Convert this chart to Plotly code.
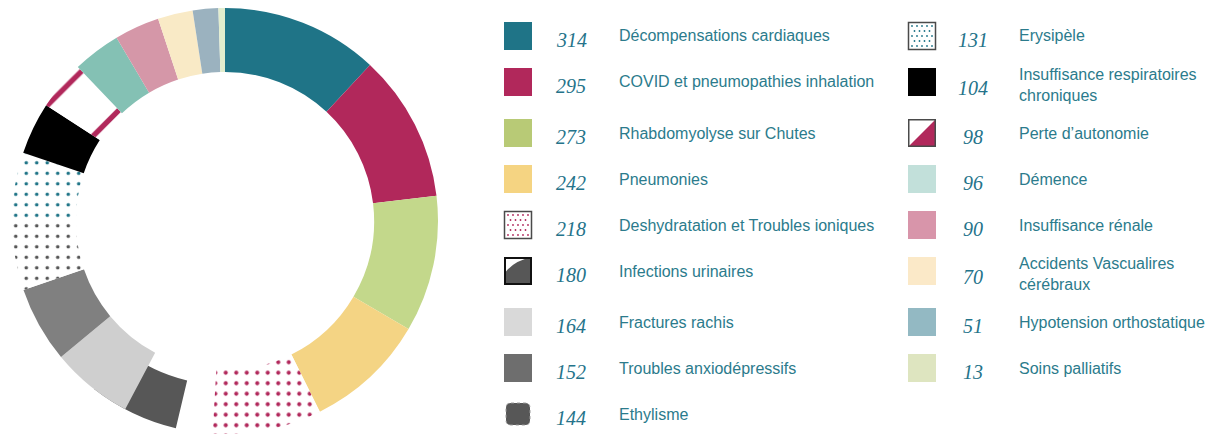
import plotly.graph_objects as go

W, H = 1219, 435

# ---------------- data ----------------
categories = [
    "Décompensations cardiaques", "COVID et pneumopathies inhalation",
    "Rhabdomyolyse sur Chutes", "Pneumonies",
    "Deshydratation et Troubles ioniques", "Infections urinaires",
    "Fractures rachis", "Troubles anxiodépressifs", "Ethylisme",
    "Erysipèle", "Insuffisance respiratoires chroniques", "Perte d’autonomie",
    "Démence", "Insuffisance rénale", "Accidents Vascualires cérébraux",
    "Hypotension orthostatique", "Soins palliatifs",
]
values = [314, 295, 273, 242, 218, 180, 164, 152, 144, 131, 104, 98, 96, 90, 70, 51, 13]
legend_labels = [
    "Décompensations cardiaques", "COVID et pneumopathies inhalation",
    "Rhabdomyolyse sur Chutes", "Pneumonies",
    "Deshydratation et Troubles ioniques", "Infections urinaires",
    "Fractures rachis", "Troubles anxiodépressifs", "Ethylisme",
    "Erysipèle", "Insuffisance respiratoires<br>chroniques", "Perte d’autonomie",
    "Démence", "Insuffisance rénale", "Accidents Vascualires<br>cérébraux",
    "Hypotension orthostatique", "Soins palliatifs",
]

# ---------------- styles ----------------
CLEAR = "rgba(0,0,0,0)"
pie_colors = ["#1f7487", "#b1285b", "#c3d88b", "#f4d484", "#ffffff", CLEAR,
              "#cfcfcf", "#808080", "#ffffff", "#ffffff", "#000000", "#ffffff",
              "#84c1b4", "#d597a8", "#f9eac6", "#9bb2bf", "#e2edcd"]
pat_shape = ["", "", "", "", ".", "", "", "", ".", ".", "", "/", "", "", "", "", ""]
pat_fg = ["#000000", "#000000", "#000000", "#000000", "#b1285b", "#000000",
          "#000000", "#000000", "#555555", "#1f7487", "#000000", "#b1285b",
          "#000000", "#000000", "#000000", "#000000", "#000000"]
pat_size = [10, 10, 10, 10, 10.5, 10, 10, 10, 10.5, 10.5, 10, 54, 10, 10, 10, 10, 10]
pat_sol = [0.1, 0.1, 0.1, 0.1, 0.12, 0.1, 0.1, 0.1, 0.09, 0.09, 0.1, 0.1,
           0.1, 0.1, 0.1, 0.1, 0.1]
overlay_colors = [CLEAR] * len(values)
overlay_colors[5] = "#575757"

legend_colors = ["#1f7487", "#b1285b", "#b8ca76", "#f5d482", None, None,
                 "#d9d9d9", "#6e6e6e", "#575757", None, "#000000", None,
                 "#c2e0da", "#d895aa", "#fbe9c8", "#93b9c3", "#dee5c0"]
legend_icon = ["solid", "solid", "solid", "solid", "dots", "curve", "solid", "solid",
               "rounded", "dots", "solid", "diag", "solid", "solid", "solid", "solid", "solid"]
dot_colors = {4: "#b1285b", 9: "#1f7487"}

TEXT = "#2b7b8c"
NUM = "#24738a"

cx, cy, R = 225, 221, 213
dom_x = [(cx - R) / W, (cx + R) / W]
dom_y = [1 - (cy + R) / H, 1 - (cy - R) / H]


def px(x):
    return x / W


def py(y):
    return 1 - y / H


fig = go.Figure()

# underlying partial piece (drawn first)
fig.add_trace(go.Pie(
    labels=categories, values=values, sort=False, direction="clockwise",
    rotation=10, hole=0.77, domain=dict(x=dom_x, y=dom_y),
    marker=dict(colors=overlay_colors, line=dict(width=0)),
    textinfo="none", hoverinfo="skip", showlegend=False,
))

fig.add_trace(go.Pie(
    labels=categories, values=values, sort=False, direction="clockwise",
    rotation=0, hole=0.70, domain=dict(x=dom_x, y=dom_y),
    marker=dict(colors=pie_colors, line=dict(width=0),
                pattern=dict(shape=pat_shape, fgcolor=pat_fg, bgcolor="#ffffff",
                             size=pat_size, solidity=pat_sol)),
    textinfo="none", hoverinfo="label+value", showlegend=False,
))

# ---------------- manual legend ----------------
rows_y = [36, 82, 133, 179, 225, 271, 322, 368, 414]
sq_x = [504, 908]
num_x = [571, 973]
lab_x = [617, 1017]
SQ = 28

shapes = []
annotations = []
for i, (lab, v) in enumerate(zip(legend_labels, values)):
    col = 0 if i < 9 else 1
    row = i if i < 9 else i - 9
    yc = rows_y[row]
    x0, x1 = sq_x[col], sq_x[col] + SQ
    y0, y1 = yc - SQ / 2, yc + SQ / 2
    kind = legend_icon[i]
    if kind == "solid":
        shapes.append(dict(type="rect", xref="paper", yref="paper",
                           x0=px(x0), x1=px(x1), y0=py(y1), y1=py(y0),
                           fillcolor=legend_colors[i], line=dict(width=0)))
    elif kind == "dots":
        shapes.append(dict(type="rect", xref="paper", yref="paper",
                           x0=px(x0 + 0.5), x1=px(x1 - 0.5), y0=py(y1 - 0.5), y1=py(y0 + 0.5),
                           fillcolor="#ffffff", line=dict(width=1.5, color="#4a4a4a")))
        for r in range(5):
            for c in range(5):
                dx = x0 + 4 + c * 5 + (2.5 if r % 2 else 0)
                dy = y0 + 4 + r * 5
                if dx > x1 - 3:
                    continue
                shapes.append(dict(type="circle", xref="paper", yref="paper",
                                   x0=px(dx - 0.9), x1=px(dx + 0.9),
                                   y0=py(dy + 0.9), y1=py(dy - 0.9),
                                   fillcolor=dot_colors[i], line=dict(width=0)))
    elif kind == "curve":
        shapes.append(dict(type="rect", xref="paper", yref="paper",
                           x0=px(x0), x1=px(x1), y0=py(y1), y1=py(y0),
                           fillcolor="#ffffff", line=dict(width=0)))
        path = (f"M {px(x0)},{py(y0 + 17)} Q {px(x0 + 9)},{py(y0 + 4)} {px(x1)},{py(y0)} "
                f"L {px(x1)},{py(y1)} L {px(x0)},{py(y1)} Z")
        shapes.append(dict(type="path", xref="paper", yref="paper", path=path,
                           fillcolor="#575757", line=dict(width=0)))
        shapes.append(dict(type="rect", xref="paper", yref="paper",
                           x0=px(x0 + 1), x1=px(x1 - 1), y0=py(y1 - 1), y1=py(y0 + 1),
                           fillcolor=CLEAR, line=dict(width=2, color="#111111")))
    elif kind == "diag":
        shapes.append(dict(type="rect", xref="paper", yref="paper",
                           x0=px(x0), x1=px(x1), y0=py(y1), y1=py(y0),
                           fillcolor="#ffffff", line=dict(width=0)))
        path = f"M {px(x0)},{py(y1)} L {px(x1)},{py(y0)} L {px(x1)},{py(y1)} Z"
        shapes.append(dict(type="path", xref="paper", yref="paper", path=path,
                           fillcolor="#b1285b", line=dict(width=0)))
        shapes.append(dict(type="rect", xref="paper", yref="paper",
                           x0=px(x0 + 0.75), x1=px(x1 - 0.75), y0=py(y1 - 0.75), y1=py(y0 + 0.75),
                           fillcolor=CLEAR, line=dict(width=1.5, color="#4a4a4a")))
    elif kind == "rounded":
        a0, a1, b0, b1, rr = x0 + 2, x1 - 2, yc - 11, yc + 11, 5
        path = (f"M {px(a0 + rr)},{py(b0)} L {px(a1 - rr)},{py(b0)} "
                f"Q {px(a1)},{py(b0)} {px(a1)},{py(b0 + rr)} L {px(a1)},{py(b1 - rr)} "
                f"Q {px(a1)},{py(b1)} {px(a1 - rr)},{py(b1)} L {px(a0 + rr)},{py(b1)} "
                f"Q {px(a0)},{py(b1)} {px(a0)},{py(b1 - rr)} L {px(a0)},{py(b0 + rr)} "
                f"Q {px(a0)},{py(b0)} {px(a0 + rr)},{py(b0)} Z")
        shapes.append(dict(type="path", xref="paper", yref="paper", path=path,
                           fillcolor=legend_colors[i],
                           line=dict(width=1, color="#9a9a9a", dash="dot")))

    multiline = "<br>" in lab
    annotations.append(dict(
        x=px(num_x[col]), y=py(yc + (6 if multiline else 4)), xref="paper", yref="paper",
        text=f"<i>{v}</i>", showarrow=False, xanchor="center", yanchor="middle",
        font=dict(family="Liberation Serif", size=20, color=NUM)))
    annotations.append(dict(
        x=px(lab_x[col]), y=py(yc + (3 if multiline else 0)), xref="paper", yref="paper",
        text=lab, showarrow=False, xanchor="left", yanchor="middle", align="left",
        font=dict(family="Liberation Sans, Arial, sans-serif", size=16, color=TEXT)))

fig.update_layout(
    width=W, height=H, margin=dict(l=0, r=0, t=0, b=0),
    paper_bgcolor="#ffffff", plot_bgcolor="#ffffff",
    showlegend=False, shapes=shapes, annotations=annotations,
)

fig.write_html("out.html", config={"displayModeBar": False},
               post_script="document.body.style.margin='0';document.body.style.overflow='hidden';")
